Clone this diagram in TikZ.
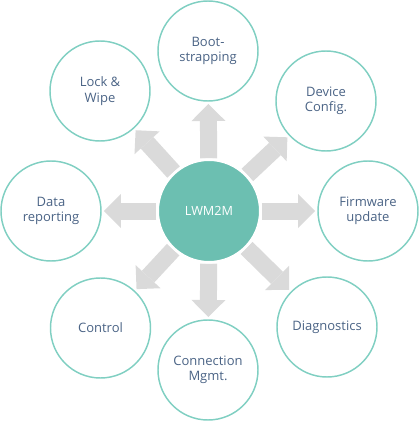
\documentclass[tikz,border=0pt]{standalone}
\usepackage{fontspec}
\setmainfont{Open Sans}
\usetikzlibrary{arrows.meta, backgrounds}
\definecolor{lwteal}{HTML}{6CBFB1}
\definecolor{lwring}{HTML}{80CFC2}
\definecolor{lwtext}{HTML}{4A6385}
\definecolor{lwgray}{HTML}{DADADA}

\begin{document}
\begin{tikzpicture}[x=0.75pt, y=0.75pt,
    topic/.style={circle, draw=lwring, line width=1.1pt, minimum size=75pt, inner sep=0pt,
        align=center, text=lwtext, font=\fontsize{9.75}{11.5}\selectfont},
    hub/.style={circle, fill=lwteal, draw=white, line width=2pt, minimum size=77pt, inner sep=0pt,
        text=white, font=\fontsize{9.5}{11.5}\selectfont},
    fat/.style={draw=lwgray, line width=12.75pt, shorten >=1.7pt,
        -{Triangle[line width=0pt, width=25.5pt, length=12.75pt, fill=lwgray]}}]
    % 余白
    \useasboundingbox (-209,-210) rectangle (210,211);

    % 中央
    \node[hub] (hub) at (0,0) {LWM2M};

    % 周囲の機能
    \node[topic] (boot) at (-1,160) {Boot-\\strapping};
    \node[topic] (device) at (117,110) {Device\\Config.};
    \node[topic] (firmware) at (159,0) {Firmware\\update};
    \node[topic] (diag) at (118,-116) {Diagnostics};
    \node[topic] (conn) at (-1,-159) {Connection\\Mgmt.};
    \node[topic] (control) at (-108.5,-117) {Control};
    \node[topic] (data) at (-158,0) {Data\\reporting};
    \node[topic] (lock) at (-109,120) {Lock \&\\Wipe};

    % 太い矢印
    \begin{scope}[on background layer]
        \foreach \n in {boot, device, firmware, diag, conn, control, data, lock}
            \draw[fat] (hub) -- (\n);
    \end{scope}
\end{tikzpicture}
\end{document}
